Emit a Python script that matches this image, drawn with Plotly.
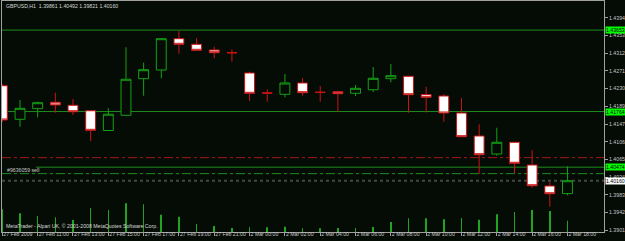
import plotly.graph_objects as go

BG = "#050c05"

bar_times = [
    "27 Feb 09:00", "27 Feb 10:00", "27 Feb 11:00", "27 Feb 12:00", "27 Feb 13:00",
    "27 Feb 14:00", "27 Feb 15:00", "27 Feb 16:00", "27 Feb 17:00", "27 Feb 18:00",
    "27 Feb 19:00", "27 Feb 20:00", "27 Feb 21:00", "27 Feb 22:00",
    "2 Mar 00:00", "2 Mar 01:00", "2 Mar 02:00", "2 Mar 03:00", "2 Mar 04:00",
    "2 Mar 05:00", "2 Mar 06:00", "2 Mar 07:00", "2 Mar 08:00", "2 Mar 09:00",
    "2 Mar 10:00", "2 Mar 11:00", "2 Mar 12:00", "2 Mar 13:00", "2 Mar 14:00",
    "2 Mar 15:00", "2 Mar 16:00", "2 Mar 17:00", "2 Mar 18:00",
]
opens = [1.42363, 1.41584, 1.41830, 1.41978, 1.41909, 1.41783, 1.41324, 1.41677,
         1.42526, 1.42727, 1.43453, 1.43323, 1.43191, 1.43130, 1.42658, 1.42196,
         1.42164, 1.42426, 1.42212, 1.42224, 1.42187, 1.42270, 1.42526, 1.42581,
         1.42159, 1.42124, 1.41730, 1.41197, 1.40779, 1.41051, 1.40524, 1.40037,
         1.39861]
highs = [1.42403, 1.42032, 1.41992, 1.42201, 1.42055, 1.41800, 1.41839, 1.43254,
         1.42897, 1.43469, 1.43632, 1.43469, 1.43268, 1.43203, 1.42688, 1.42280,
         1.42634, 1.42542, 1.42356, 1.42247, 1.42379, 1.42797, 1.42866, 1.42590,
         1.42338, 1.42171, 1.42078, 1.41468, 1.41389, 1.41058, 1.40872, 1.40123,
         1.40492]
lows = [1.41521, 1.41412, 1.41630, 1.41737, 1.41684, 1.41081, 1.41318, 1.41661,
        1.42131, 1.42535, 1.43105, 1.43179, 1.42999, 1.42920, 1.42008, 1.41992,
        1.42094, 1.42131, 1.41992, 1.41760, 1.42124, 1.42217, 1.42442, 1.41737,
        1.41742, 1.41528, 1.41174, 1.40316, 1.40740, 1.40332, 1.39998, 1.39557,
        1.39821]
closes = [1.41568, 1.41839, 1.41969, 1.41916, 1.41760, 1.41329, 1.41702, 1.42512,
          1.42734, 1.43453, 1.43323, 1.43184, 1.43128, 1.43126, 1.42187, 1.42192,
          1.42426, 1.42201, 1.42208, 1.42178, 1.42303, 1.42535, 1.42595, 1.42154,
          1.42094, 1.41730, 1.41181, 1.40763, 1.41051, 1.40564, 1.40044, 1.39858,
          1.40160]
volumes = [2270, 1870, 1600, 1470, 1200, 2400, 2200, 2870, 2770, 1730, 1530, 800,
           600, 400, 470, 470, 530, 370, 370, 400, 400, 500, 1000, 1370, 1370, 1270,
           1400, 1230, 1770, 2000, 2200, 2100, 1130]

tick_times = bar_times[::2]
tick_labels = ["27 Feb 2009", "27 Feb 11:00", "27 Feb 13:00", "27 Feb 15:00",
               "27 Feb 17:00", "27 Feb 19:00", "27 Feb 21:00", "2 Mar 00:00",
               "2 Mar 02:00", "2 Mar 04:00", "2 Mar 06:00", "2 Mar 08:00",
               "2 Mar 10:00", "2 Mar 12:00", "2 Mar 14:00", "2 Mar 16:00",
               "2 Mar 18:00"]
price_ticks = [1.43940, 1.43530, 1.43120, 1.42710, 1.42300, 1.41890, 1.41470,
               1.41060, 1.40650, 1.40240, 1.39830, 1.39420, 1.39010]

title_text = "GBPUSD,H1  1.39861 1.40492 1.39821 1.40160"
copyright_text = "MetaTrader - Alpari UK, \u00a9 2001-2008 MetaQuotes Software Corp."
order_label = "#9636059 sell"

green_levels = [1.43653, 1.41764]
order_level = 1.40474
order_dashdot = 1.40324
red_level = 1.40695
bid_level = 1.40160

FONT = "Liberation Sans"
FS = 5.2

fig = go.Figure()
fig.add_trace(go.Bar(
    x=bar_times, y=volumes, width=0.035, yaxis="y",
    marker=dict(color="#22a322", line=dict(width=0)), hoverinfo="skip",
))
fig.add_trace(go.Candlestick(
    x=bar_times, open=opens, high=highs, low=lows, close=closes, yaxis="y2",
    increasing=dict(line=dict(color="#16a016", width=1), fillcolor=BG),
    decreasing=dict(line=dict(color="#cc1414", width=1), fillcolor="#ffffff"),
    whiskerwidth=0,
))

shapes = []
for lv in green_levels:
    shapes.append(dict(type="line", xref="paper", yref="y2", x0=0, x1=1, y0=lv, y1=lv,
                       line=dict(color="#1d8c1d", width=1), layer="below"))
shapes.append(dict(type="line", xref="paper", yref="y2", x0=0.0565, x1=1,
                   y0=order_level, y1=order_level,
                   line=dict(color="#1d8c1d", width=1), layer="below"))
shapes.append(dict(type="line", xref="paper", yref="y2", x0=0, x1=1,
                   y0=order_dashdot, y1=order_dashdot,
                   line=dict(color="#1d8c1d", width=1, dash="dashdot"), layer="below"))
shapes.append(dict(type="line", xref="paper", yref="y2", x0=0, x1=1,
                   y0=red_level, y1=red_level,
                   line=dict(color="#a01616", width=1, dash="dashdot"), layer="below"))
shapes.append(dict(type="line", xref="paper", yref="y2", x0=0, x1=1,
                   y0=bid_level, y1=bid_level,
                   line=dict(color="#454545", width=2, dash="dot"), layer="below"))

annotations = [
    dict(text=title_text, xref="paper", yref="paper", x=0.0033, y=0.978,
         xanchor="left", yanchor="middle", showarrow=False,
         font=dict(family=FONT, size=FS, color="#d8d8d8")),
    dict(text=copyright_text, xref="paper", yref="paper", x=0.0033, y=0.026,
         xanchor="left", yanchor="middle", showarrow=False,
         font=dict(family=FONT, size=FS, color="#d8d8d8")),
    dict(text=order_label, xref="paper", yref="y2", x=0.005, y=order_level,
         xanchor="left", yanchor="middle", yshift=-2.5, showarrow=False,
         font=dict(family=FONT, size=FS, color="#c8c8c8")),
]
for lv, bg in [(green_levels[0], "#00ff00"), (green_levels[1], "#00ff00"),
               (order_level, "#00ff00"), (bid_level, "#ffffff")]:
    annotations.append(dict(text=f"{lv:.5f}", xref="paper", yref="y2", x=1, y=lv,
                            xanchor="left", yanchor="middle", xshift=1, showarrow=False,
                            bgcolor=bg, borderpad=0,
                            font=dict(family=FONT, size=FS, color="#000000")))

fig.update_layout(
    width=625, height=241,
    margin=dict(l=2, r=21, t=1, b=9, pad=0),
    paper_bgcolor=BG, plot_bgcolor=BG,
    showlegend=False, boxgap=0.2,
    xaxis=dict(
        type="category", range=[-0.02, 34.07], rangeslider=dict(visible=False),
        tickvals=tick_times, ticktext=tick_labels, ticks="outside", ticklen=3,
        tickcolor="#a0a0a0", ticklabelposition="outside right", tickangle=0,
        ticklabelstandoff=-3,
        tickfont=dict(family=FONT, size=FS, color="#c8c8c8"),
        showgrid=False, zeroline=False, showline=True, linecolor="#a0a0a0",
        mirror=True, automargin=False,
    ),
    yaxis=dict(range=[0, 23100], visible=False, showgrid=False, automargin=False),
    yaxis2=dict(
        overlaying="y", side="right", range=[1.389706, 1.443273],
        tickvals=price_ticks, ticktext=[f"{p:.5f}" for p in price_ticks],
        ticks="outside", ticklen=3, tickcolor="#a0a0a0",
        tickfont=dict(family=FONT, size=FS, color="#c8c8c8"),
        showgrid=False, zeroline=False, showline=True, linecolor="#a0a0a0",
        mirror=True, automargin=False,
    ),
    shapes=shapes, annotations=annotations,
)

fig.write_html("out.html")
